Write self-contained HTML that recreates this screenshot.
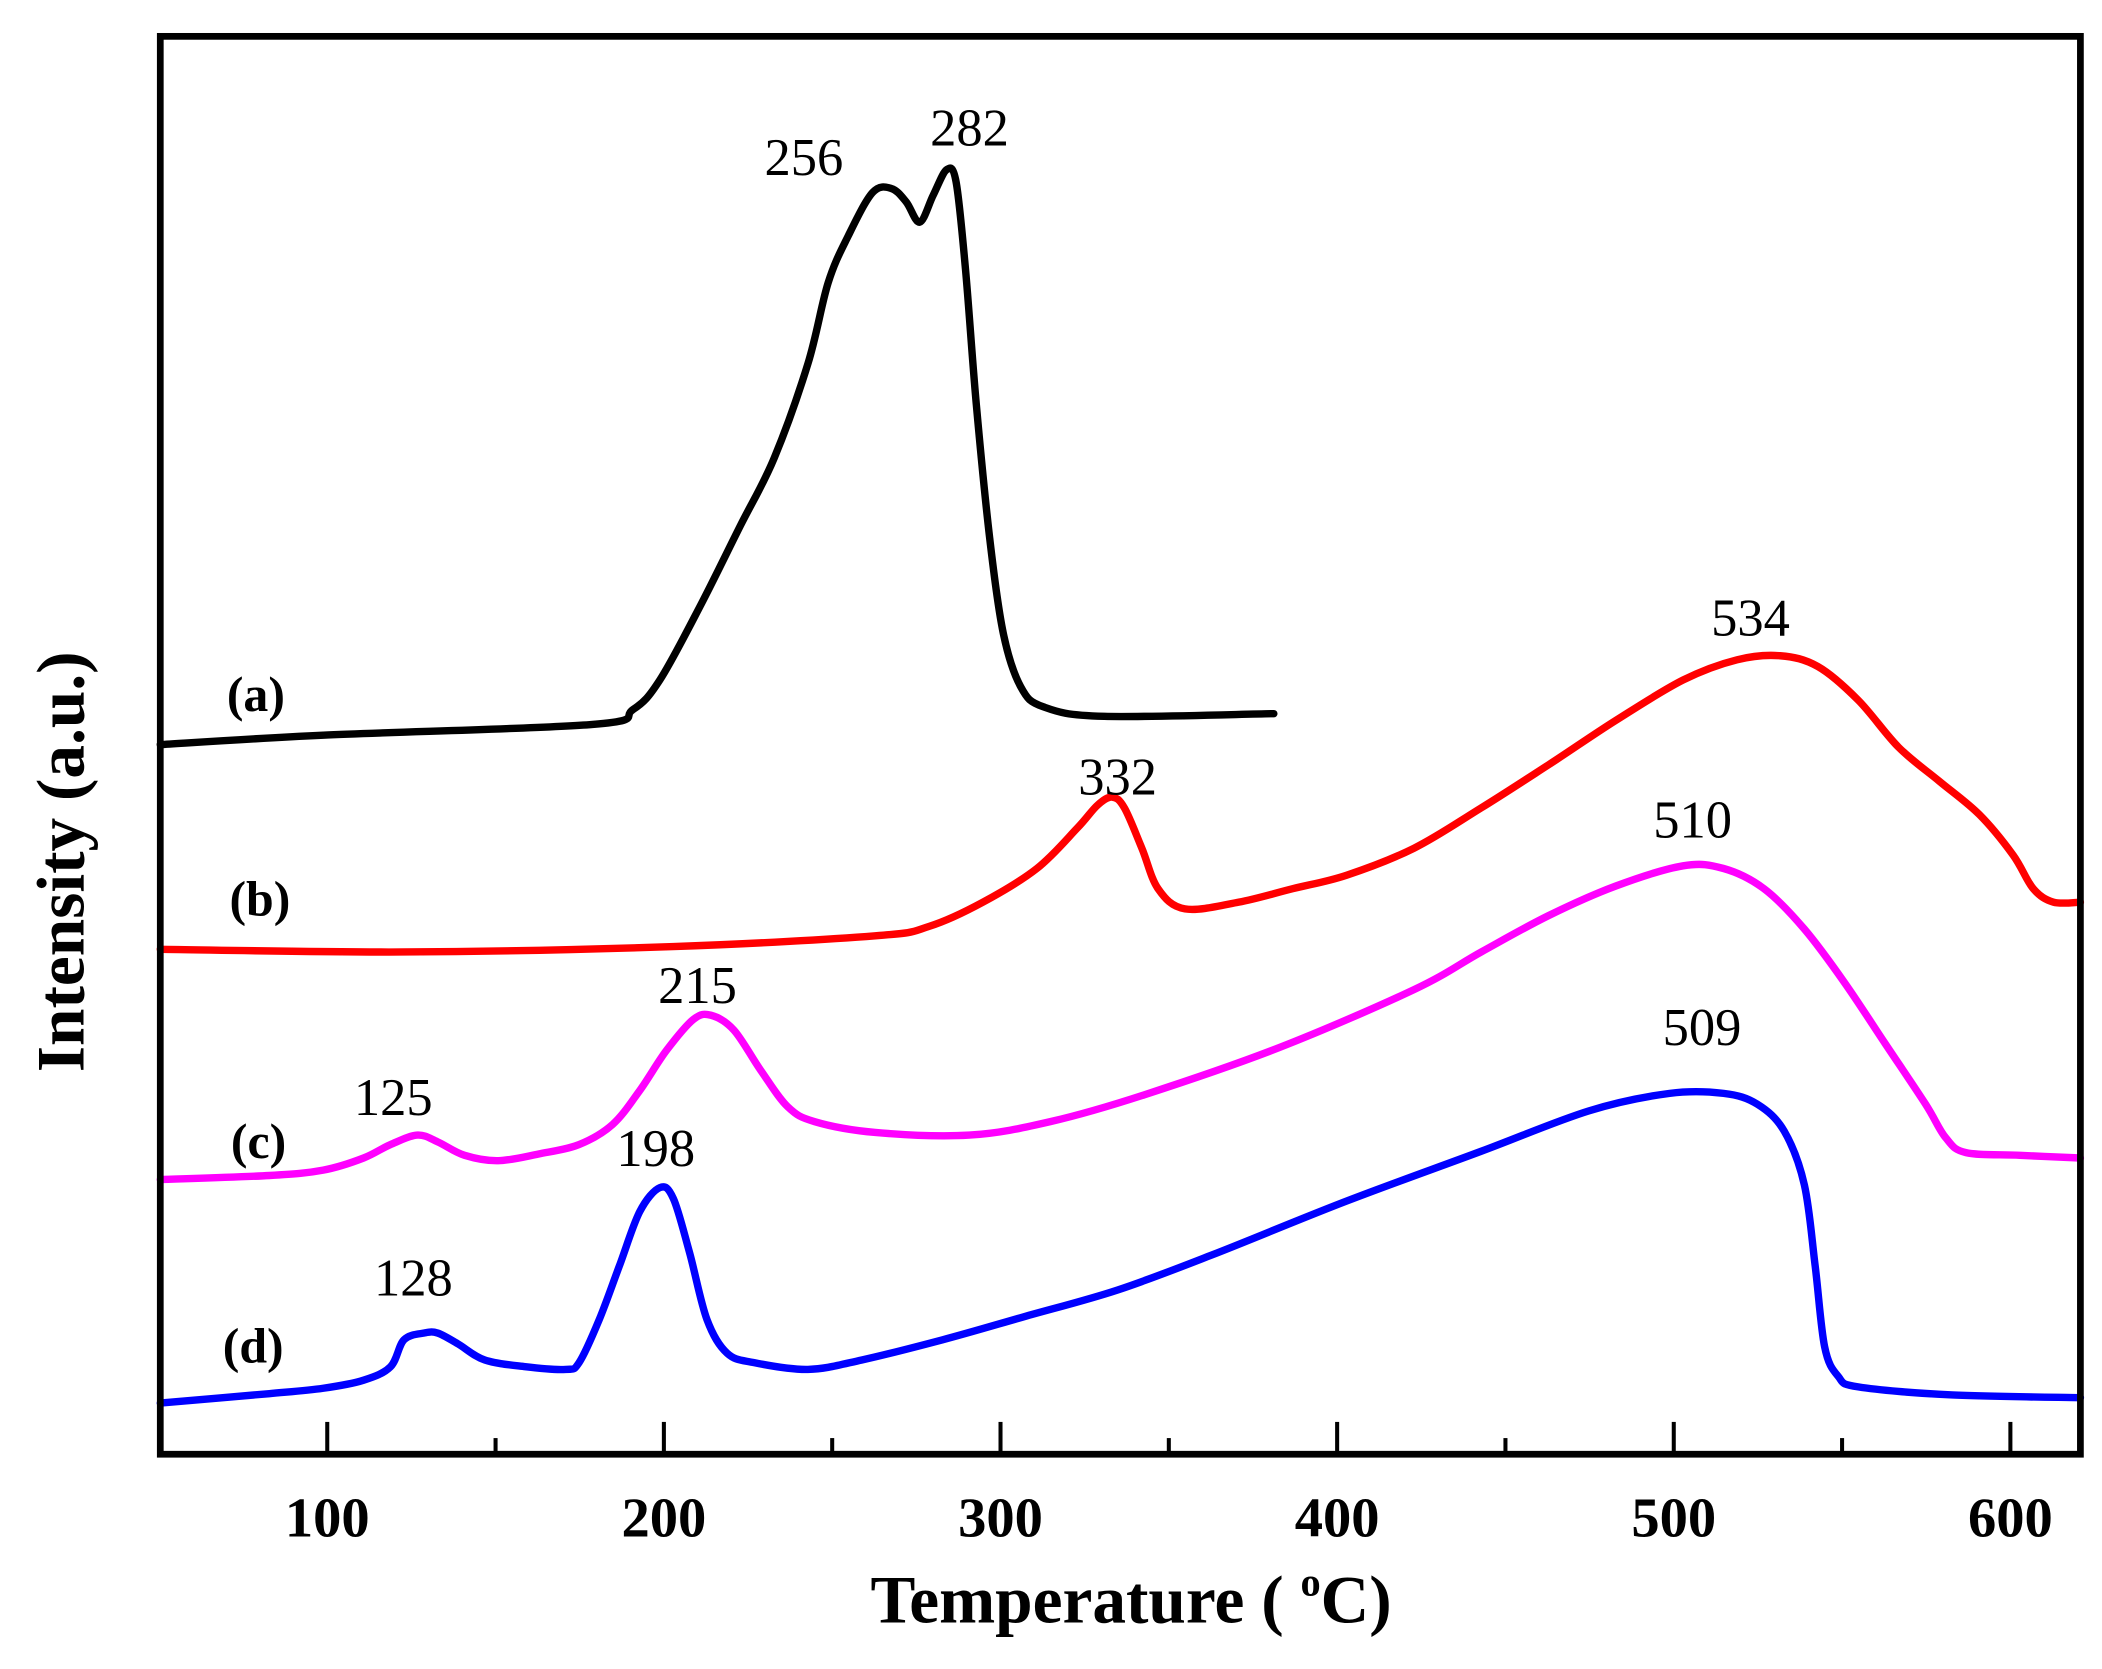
<!DOCTYPE html>
<html><head><meta charset="utf-8"><style>html,body{margin:0;padding:0;background:#fff}svg{display:block}</style></head>
<body>
<svg width="2102" height="1669" viewBox="0 0 1561 1239.5" xmlns="http://www.w3.org/2000/svg" font-family="'Liberation Serif', serif">
<rect width="1561" height="1240" fill="#fff"/>
<g fill="none" stroke-linejoin="round" stroke-linecap="round" stroke-width="5.5">
<polyline class="c" stroke="#000" points="119,553 240,546 440,538 470,527 490,505 520,450 550,390 575,340 600,270 615,210 630,175 648,143 662,140 673,150 683,165 693,145 703,126 710,135 717,200 725,300 735,400 745,470 758,510 775,525 820,532 946,530"/>
<polyline class="c" stroke="#ff0000" points="119,705 300,707 500,703 650,695 690,688 730,670 770,645 800,615 815,598 826,592 835,600 848,630 860,660 880,675 920,670 960,660 1000,650 1050,630 1100,600 1150,568 1200,535 1250,505 1290,490 1322,487 1350,495 1380,520 1410,555 1440,580 1470,605 1495,635 1510,660 1525,670 1545,670"/>
<polyline class="c" stroke="#ff00ff" points="119,876 200,873 240,869 270,860 290,850 310,843 325,848 345,858 370,862 400,857 430,850 455,835 475,810 495,780 515,757 528,754 545,765 565,795 585,822 605,833 650,841 720,843 780,833 850,813 950,778 1050,735 1100,707 1150,680 1200,658 1250,643 1280,645 1310,660 1340,690 1370,730 1400,775 1430,820 1445,845 1460,856 1500,858 1545,860"/>
<polyline class="c" stroke="#0000ff" points="119,1042 200,1035 240,1031 270,1025 290,1015 300,995 315,990 325,990 340,998 360,1010 390,1015 420,1017 430,1012 445,980 460,940 475,900 490,882 500,890 512,930 525,980 540,1005 560,1012 600,1017 640,1010 700,995 760,978 830,958 900,932 1000,892 1100,855 1180,825 1240,812 1280,812 1305,820 1325,840 1340,880 1348,940 1355,1000 1365,1022 1380,1030 1450,1036 1545,1038"/>
</g>
<rect x="119" y="27" width="1426" height="1053" fill="none" stroke="#000" stroke-width="5"/>
<g stroke="#000" stroke-width="3">
<line x1="243" y1="1080" x2="243" y2="1056"/><line x1="368" y1="1080" x2="368" y2="1068"/>
<line x1="493" y1="1080" x2="493" y2="1056"/><line x1="618" y1="1080" x2="618" y2="1068"/>
<line x1="743" y1="1080" x2="743" y2="1056"/><line x1="868" y1="1080" x2="868" y2="1068"/>
<line x1="993" y1="1080" x2="993" y2="1056"/><line x1="1118" y1="1080" x2="1118" y2="1068"/>
<line x1="1243" y1="1080" x2="1243" y2="1056"/><line x1="1368" y1="1080" x2="1368" y2="1068"/>
<line x1="1493" y1="1080" x2="1493" y2="1056"/>
</g>
<g font-size="42" font-weight="bold" text-anchor="middle">
<text x="243" y="1141">100</text><text x="493" y="1141">200</text><text x="743" y="1141">300</text>
<text x="993" y="1141">400</text><text x="1243" y="1141">500</text><text x="1493" y="1141">600</text>
</g>
<text x="840" y="1205" font-size="50" font-weight="bold" text-anchor="middle">Temperature ( <tspan font-size="30" dy="-20">o</tspan><tspan dy="20">C)</tspan></text>
<text transform="translate(62,640) rotate(-90)" font-size="50" font-weight="bold" text-anchor="middle">Intensity (a.u.)</text>
<g font-size="39" text-anchor="middle">
<text x="597" y="130">256</text><text x="720" y="108">282</text>
<text x="1300" y="472">534</text><text x="830" y="590">332</text>
<text x="1257" y="622">510</text><text x="518" y="745">215</text>
<text x="292" y="828">125</text><text x="487" y="866">198</text>
<text x="1264" y="776">509</text><text x="307" y="962">128</text>
</g>
<g font-size="37" font-weight="bold" text-anchor="middle">
<text x="190" y="528">(a)</text><text x="193" y="680">(b)</text>
<text x="192" y="860">(c)</text><text x="188" y="1012">(d)</text>
</g>
</svg>
<script>
document.querySelectorAll('polyline.c').forEach(function(pl){
  var p=pl.getAttribute('points').trim().split(/\s+/).map(function(s){return s.split(',').map(Number);});
  var d='M'+p[0][0]+','+p[0][1];
  for(var i=0;i<p.length-1;i++){
    var p0=p[i-1]||p[i],p1=p[i],p2=p[i+1],p3=p[i+2]||p2;
    var c1x=p1[0]+(p2[0]-p0[0])/6,c1y=p1[1]+(p2[1]-p0[1])/6;
    var c2x=p2[0]-(p3[0]-p1[0])/6,c2y=p2[1]-(p3[1]-p1[1])/6;
    d+=' C'+c1x.toFixed(1)+','+c1y.toFixed(1)+' '+c2x.toFixed(1)+','+c2y.toFixed(1)+' '+p2[0]+','+p2[1];
  }
  var path=document.createElementNS('http://www.w3.org/2000/svg','path');
  path.setAttribute('d',d);path.setAttribute('stroke',pl.getAttribute('stroke'));
  pl.parentNode.replaceChild(path,pl);
});
</script>
</body></html>
